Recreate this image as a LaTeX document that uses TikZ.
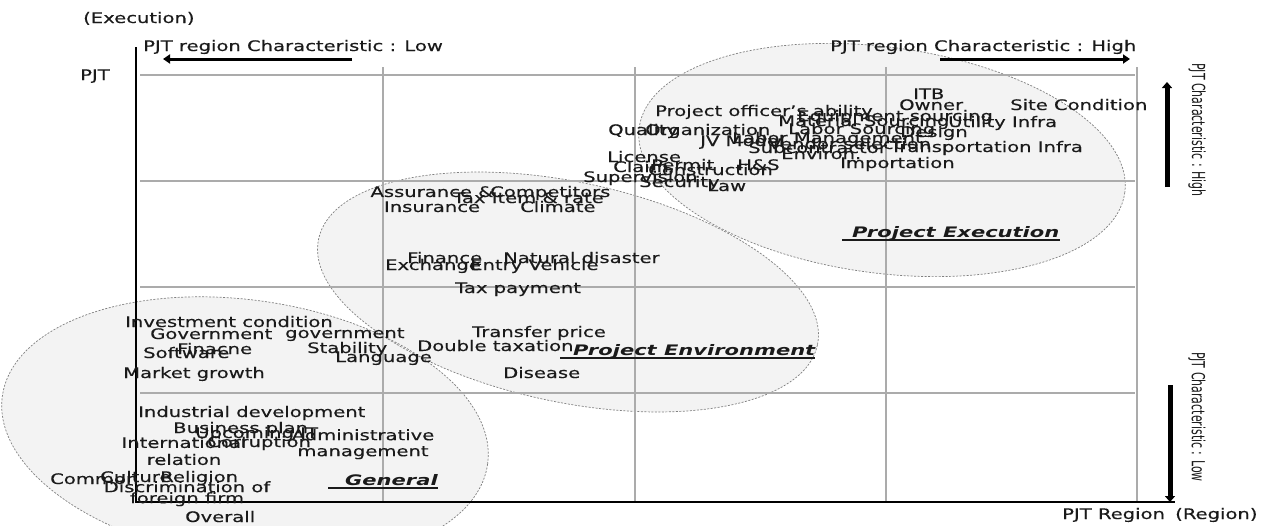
\documentclass[tikz,border=0pt]{standalone}
\usepackage{fontspec}
\usetikzlibrary{arrows.meta}
\newfontfamily\lf[FakeStretch=1.35, FakeBold=0.3]{DejaVu Sans}
\newfontfamily\cf[FakeStretch=1.45]{DejaVu Sans Bold Oblique}
\newfontfamily\vf[FakeStretch=0.61]{DejaVu Sans}
\definecolor{gridc}{HTML}{ABABAB}
\definecolor{ellfill}{HTML}{F3F3F3}
\definecolor{elldraw}{HTML}{808080}
\definecolor{txt}{HTML}{1A1A1A}
\newcommand\lab[4]{\node[lbl] (#1) at (#2,{#3+5}) {#4};}
\begin{document}
\begin{tikzpicture}[x=1pt,y=-1pt,
  lbl/.style={anchor=base west, inner sep=0pt, font=\lf\fontsize{14.5}{16}\selectfont, text=txt},
  multi/.style={anchor=center, inner sep=0pt, align=center, font=\lf\fontsize{14.5}{16}\selectfont, text=txt},
  cat/.style={anchor=base west, inner sep=0pt, font=\cf\fontsize{14.5}{17}\selectfont, text=txt},
  vlab/.style={inner sep=0pt, font=\vf\fontsize{18}{20}\selectfont, text=txt},
  grpfill/.style={fill=ellfill},
  grpline/.style={draw=elldraw, dash pattern=on 2pt off 1.5pt, line width=0.7pt},
  gridline/.style={draw=gridc, line width=1.3pt},
  axis/.style={draw=black, line width=2pt},
  toparrow/.style={line width=3pt, -{Triangle[length=7pt,width=9pt]}},
  sidearrow/.style={line width=5pt, -{Triangle[length=6pt,width=10pt]}},
  uline/.style={line width=1.3pt, draw=txt}
]
\useasboundingbox[fill=white] (0,0) rectangle (1280,525);

% groups (ellipses)
\path[grpfill, rotate around={-8:(245,430)}] (245,430) ellipse [x radius=245, y radius=130];
\path[grpfill, rotate around={-12:(568,292)}] (568,292) ellipse [x radius=255, y radius=110];
\path[grpfill, rotate around={-7.6:(882,160)}] (882,160) ellipse [x radius=245, y radius=113];
\path[grpline, rotate around={-8:(245,430)}] (245,430) ellipse [x radius=245, y radius=130];
\path[grpline, rotate around={-12:(568,292)}] (568,292) ellipse [x radius=255, y radius=110];
\path[grpline, rotate around={-7.6:(882,160)}] (882,160) ellipse [x radius=245, y radius=113];

% grid
\foreach \yy in {75,181,287,393} \draw[gridline] (140,\yy) -- (1135,\yy);
\foreach \xx in {383,635,886,1137} \draw[gridline] (\xx,67) -- (\xx,502);

% axes
\draw[axis] (136,47) -- (136,502) -- (1175,502);

% arrows
\coordinate (lowS) at (352,59); \coordinate (lowE) at (163,59);
\coordinate (highS) at (940,59); \coordinate (highE) at (1130,59);
\coordinate (vhS) at (1167,187); \coordinate (vhE) at (1167,82);
\coordinate (vlS) at (1170,385); \coordinate (vlE) at (1170,502);
\draw[toparrow] (lowS) -- (lowE);
\draw[toparrow] (highS) -- (highE);
\draw[sidearrow] (vhS) -- (vhE);
\draw[sidearrow] (vlS) -- (vlE);

% axis labels
\lab{exec}{83}{18}{(Execution)}
\lab{pjt}{80}{75}{PJT}
\lab{low}{143}{46}{PJT region Characteristic : Low}
\lab{high}{830}{46}{PJT region Characteristic : High}
\lab{pjtreg}{1062}{514}{PJT Region}
\lab{region}{1175}{514}{(Region)}
\node[vlab, rotate=-90] (vhigh) at (1197,130) {PJT Characteristic : High};
\node[vlab, rotate=-90] (vlow) at (1197,417) {PJT Characteristic : Low};

% project execution
\lab{itb}{913}{94}{ITB}
\lab{owner}{899}{105}{Owner}
\lab{site}{1010}{105}{Site Condition}
\lab{poa}{655}{111}{Project officer’s ability}
\lab{equip}{797}{116}{Equipment sourcing}
\lab{matl}{778}{121}{Material Sourcing}
\lab{util}{948}{122}{Utility Infra}
\lab{labs}{788}{129}{Labor Sourcing}
\lab{qual}{608}{130}{Quality}
\lab{org}{645}{130}{Organization}
\lab{design}{900}{132}{Design}
\lab{labm}{732}{138}{Labor Management}
\lab{jv}{700}{141}{JV Model}
\lab{vendor}{768}{144}{Vendor selection}
\lab{sub}{748}{148}{Subcontractor}
\lab{trans}{890}{147}{Transportation Infra}
\lab{environ}{781}{154}{Environ.}
\lab{license}{607}{157}{License}
\lab{imp}{840}{163}{Importation}
\lab{permit}{651}{165}{Permit}
\lab{hs}{737}{165}{H\&S}
\lab{claim}{613}{167}{Claim}
\lab{constr}{648}{170}{Construction}
\lab{superv}{583}{177}{Supervision}
\lab{secur}{639}{182}{Security}
\lab{law}{707}{186}{Law}
\node[cat] (catExe) at (852,{232+5}) {Project Execution};
\draw[uline] ([xshift=-10pt,yshift=-3pt]catExe.base west) -- ([yshift=-3pt]catExe.base east);

% project environment
\node[multi] (assur) at (432,199.2) {Assurance \&\\[-1pt]Insurance};
\lab{comp}{490}{192}{Competitors}
\lab{taxitem}{453}{198}{Tax Item \& rate}
\lab{climate}{520}{207}{Climate}
\lab{finance}{407}{258}{Finance}
\lab{natural}{503}{258}{Natural disaster}
\lab{exch}{385}{265}{Exchange}
\lab{entry}{470}{265}{Entry Vehicle}
\lab{taxpay}{455}{288}{Tax payment}
\lab{transfer}{472}{332}{Transfer price}
\lab{double}{417}{346}{Double taxation}
\lab{disease}{503}{373}{Disease}
\node[cat] (catEnv) at (573,{350+5}) {Project Environment};
\draw[uline] ([xshift=-13pt,yshift=-3pt]catEnv.base west) -- ([yshift=-3pt]catEnv.base east);

% general
\lab{invest}{125}{322}{Investment condition}
\lab{govt}{150}{334}{Government}
\lab{govt2}{285}{333}{government}
\lab{finacne}{177}{349}{Finacne}
\lab{soft}{143}{353}{Software}
\lab{stab}{307}{348}{Stability}
\lab{lang}{335}{357}{Language}
\lab{market}{123}{373}{Market growth}
\lab{indus}{138}{412}{Industrial development}
\lab{bplan}{173}{428}{Business plan}
\lab{upc}{195}{433}{Upcoming IT}
\lab{corr}{207}{442}{Corruption}
\node[multi] (intl) at (184,451) {International\\[1pt]relation};
\node[multi] (admin) at (363,444.2) {Administrative\\management};
\lab{common}{50}{479}{Common}
\lab{culture}{100}{477}{Culture}
\lab{relig}{160}{477}{Religion}
\node[multi] (discr) at (187,493.7) {Discrimination of\\[-5pt]foreign firm};
\lab{overall}{185}{517}{Overall}
\node[cat] (catGen) at (345,{480+5}) {General};
\draw[uline] ([xshift=-17pt,yshift=-3pt]catGen.base west) -- ([yshift=-3pt]catGen.base east);
\end{tikzpicture}
\end{document}
